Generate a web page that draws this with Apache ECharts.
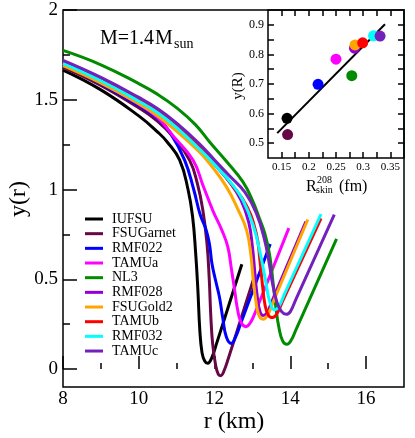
<!DOCTYPE html>
<html>
<head>
<meta charset="utf-8">
<script src="https://cdn.jsdelivr.net/npm/echarts@6/dist/echarts.min.js"></script>
<style>
  html, body { margin: 0; padding: 0; background: #fff; }
  #chart { width: 415px; height: 438px; }
</style>
</head>
<body>
<div id="chart"></div>
<script>
// y(r) curves, [r (km), y]
const iufsu = [[8, 1.665], [9, 1.555], [10, 1.41], [10.5, 1.32], [10.75, 1.265], [11.08, 1.164], [11.3, 1.0], [11.42, 0.85], [11.5, 0.65], [11.56, 0.44], [11.61, 0.22], [11.67, 0.09], [11.74, 0.045], [11.82, 0.032], [11.92, 0.06], [12.05, 0.14], [12.72, 0.584]]
const fsuGarnet = [[8, 1.682], [9, 1.58], [10, 1.455], [10.5, 1.38], [10.9, 1.295], [11.34, 1.164], [11.55, 1.03], [11.69, 0.886], [11.8, 0.70], [11.86, 0.5], [11.9, 0.3], [11.95, 0.14], [12.03, 0.02], [12.1, -0.03], [12.16, -0.037], [12.24, -0.015], [12.38, 0.07], [13.07, 0.529]]
const rmf022 = [[8, 1.695], [9, 1.59], [10, 1.468], [10.5, 1.395], [10.82, 1.32], [11.21, 1.164], [11.45, 1.0], [11.62, 0.86], [11.78, 0.774], [11.87, 0.69], [11.93, 0.59], [12.02, 0.5], [12.13, 0.40], [12.22, 0.28], [12.31, 0.18], [12.44, 0.143], [12.56, 0.18], [12.7, 0.26], [13.47, 0.697]]
const tamua = [[8, 1.70], [9, 1.597], [10, 1.475], [10.5, 1.40], [10.9, 1.30], [11.43, 1.164], [11.7, 1.02], [11.96, 0.88], [12.2, 0.77], [12.35, 0.68], [12.45, 0.55], [12.53, 0.44], [12.6, 0.34], [12.7, 0.26], [12.83, 0.236], [12.95, 0.26], [13.1, 0.33], [13.96, 0.785]]
const nl3 = [[8, 1.775], [9, 1.695], [10, 1.59], [10.5, 1.53], [11, 1.455], [11.5, 1.36], [11.87, 1.265], [12.3, 1.16], [12.74, 1.045], [13.0, 0.94], [13.2, 0.83], [13.32, 0.76], [13.45, 0.64], [13.55, 0.47], [13.62, 0.34], [13.7, 0.23], [13.8, 0.155], [13.91, 0.138], [14.02, 0.16], [14.15, 0.22], [15.22, 0.725]]
const rmf028 = [[8, 1.714], [9, 1.618], [10, 1.505], [10.5, 1.44], [11, 1.36], [11.6, 1.235], [12.0, 1.14], [12.4, 1.04], [12.7, 0.94], [12.9, 0.82], [13.0, 0.68], [13.07, 0.52], [13.13, 0.4], [13.2, 0.32], [13.28, 0.298], [13.38, 0.31], [13.5, 0.37], [14.41, 0.822]]
const fsuGold2 = [[8, 1.69], [9, 1.593], [10, 1.478], [10.5, 1.41], [11, 1.325], [11.6, 1.21], [11.87, 1.145], [12.31, 1.016], [12.66, 0.87], [12.85, 0.77], [12.95, 0.65], [13.02, 0.5], [13.09, 0.38], [13.17, 0.3], [13.28, 0.278], [13.4, 0.3], [13.55, 0.375], [14.46, 0.833]]
const tamub = [[8, 1.708], [9, 1.612], [10, 1.498], [10.5, 1.435], [11, 1.35], [11.6, 1.235], [12.0, 1.15], [12.44, 1.03], [12.83, 0.915], [13.1, 0.756], [13.2, 0.6], [13.26, 0.477], [13.33, 0.36], [13.42, 0.3], [13.53, 0.287], [13.65, 0.31], [13.8, 0.38], [14.81, 0.839]]
const rmf032 = [[8, 1.703], [9, 1.606], [10, 1.492], [10.5, 1.428], [11, 1.345], [11.6, 1.225], [12.0, 1.14], [12.48, 1.025], [12.75, 0.94], [13.02, 0.8], [13.2, 0.65], [13.36, 0.477], [13.45, 0.38], [13.58, 0.33], [13.7, 0.35], [13.85, 0.42], [14.81, 0.863]]
const tamuc = [[8, 1.72], [9, 1.625], [10, 1.513], [10.5, 1.45], [11, 1.37], [11.6, 1.255], [12.0, 1.165], [12.4, 1.075], [12.8, 0.985], [13.1, 0.87], [13.32, 0.72], [13.45, 0.58], [13.53, 0.477], [13.65, 0.37], [13.77, 0.32], [13.89, 0.305], [14.0, 0.32], [14.15, 0.39], [15.16, 0.86]]

const models = ['IUFSU', 'FSUGarnet', 'RMF022', 'TAMUa', 'NL3', 'RMF028', 'FSUGold2', 'TAMUb', 'RMF032', 'TAMUc']
const colors = ['#000000', '#670748', '#0000ff', '#ff00ff', '#008b00', '#9400d3', '#ffa500', '#ff0000', '#00ffff', '#7221bc']
const curves = [iufsu, fsuGarnet, rmf022, tamua, nl3, rmf028, fsuGold2, tamub, rmf032, tamuc]

// inset: y(R) vs neutron skin of 208Pb
const skin = [0.16, 0.161, 0.217, 0.25, 0.279, 0.284, 0.285, 0.299, 0.319, 0.331]
const yR = [0.584, 0.529, 0.699, 0.784, 0.728, 0.821, 0.832, 0.839, 0.863, 0.862]
const fitX = [0.142, 0.34]
const fitY = [0.534, 0.902]

// ticks
const rMajor = [8, 10, 12, 14, 16]
const rMinor = [9, 11, 13, 15]
const yMajor = [0, 0.5, 1, 1.5, 2]
const yMinor = [0.25, 0.75, 1.25, 1.75]
const skinTicks = [0.15, 0.175, 0.2, 0.225, 0.25, 0.275, 0.3, 0.325, 0.35]
const skinLabels = [0.15, 0.2, 0.25, 0.3, 0.35]
const yRTicks = [0.5, 0.55, 0.6, 0.65, 0.7, 0.75, 0.8, 0.85, 0.9]
const yRLabels = [0.5, 0.6, 0.7, 0.8, 0.9]

const serif = '"Liberation Serif", "Times New Roman", serif'

const chart = echarts.init(document.getElementById('chart'))

function tickAxis(extra) {
  return Object.assign({
    type: 'value',
    splitLine: { show: false },
    axisLine: { show: false },
    axisLabel: { show: false }
  }, extra)
}

const tickLine = { color: '#000', width: 1.5 }

const series = curves.map((c, i) => ({
  name: models[i],
  type: 'line',
  xAxisIndex: 0,
  yAxisIndex: 0,
  data: c,
  showSymbol: false,
  symbol: 'none',
  smooth: 0.45,
  lineStyle: { width: 3, color: colors[i] },
  itemStyle: { color: colors[i] }
}))

series.push({
  type: 'line',
  xAxisIndex: 2,
  yAxisIndex: 2,
  data: fitX.map((x, i) => [x, fitY[i]]),
  showSymbol: false,
  symbol: 'none',
  lineStyle: { width: 2, color: '#000' },
  z: 3
})

series.push({
  type: 'scatter',
  xAxisIndex: 2,
  yAxisIndex: 2,
  data: skin.map((x, i) => [x, yR[i]]),
  symbolSize: 11,
  itemStyle: { color: p => colors[p.dataIndex], opacity: 1 },
  z: 4
})

chart.setOption({
  animation: false,
  backgroundColor: '#fff',
  grid: [
    { left: 63, top: 10, right: 11, bottom: 51, show: true, borderColor: '#000', borderWidth: 1.5, backgroundColor: 'transparent' },
    { left: 268, top: 10, right: 11, bottom: 280, show: true, borderColor: '#000', borderWidth: 1.5, backgroundColor: 'transparent' }
  ],
  legend: {
    data: models,
    orient: 'vertical',
    left: 80,
    top: 207,
    icon: 'rect',
    itemWidth: 18,
    itemHeight: 3,
    itemGap: 0.67,
    textStyle: { fontFamily: serif, fontSize: 14, lineHeight: 14, color: '#000', padding: [0, 0, 0, 4] }
  },
  xAxis: [
    tickAxis({
      gridIndex: 0, min: 8, max: 17, position: 'bottom',
      axisTick: { show: true, inside: true, length: 13, customValues: rMajor, lineStyle: tickLine },
      axisLabel: { show: true, customValues: rMajor, margin: 3, fontFamily: serif, fontSize: 19, color: '#000' }
    }),
    tickAxis({
      gridIndex: 0, min: 8, max: 17, position: 'bottom',
      axisTick: { show: true, inside: true, length: 6, customValues: rMinor, lineStyle: tickLine }
    }),
    tickAxis({
      gridIndex: 1, min: 0.125, max: 0.375, position: 'bottom',
      axisTick: { show: true, inside: true, length: 6, customValues: skinTicks, lineStyle: tickLine },
      axisLabel: { show: true, customValues: skinLabels, margin: 4, fontFamily: serif, fontSize: 11, color: '#000' }
    }),
    tickAxis({
      gridIndex: 1, min: 0.125, max: 0.375, position: 'top',
      axisTick: { show: true, inside: true, length: 6, customValues: skinTicks, lineStyle: tickLine }
    })
  ],
  yAxis: [
    tickAxis({
      gridIndex: 0, min: -0.1, max: 2, position: 'left',
      axisTick: { show: true, inside: true, length: 14, customValues: yMajor, lineStyle: tickLine },
      axisLabel: { show: true, customValues: yMajor, margin: 5, fontFamily: serif, fontSize: 19, color: '#000' }
    }),
    tickAxis({
      gridIndex: 0, min: -0.1, max: 2, position: 'left',
      axisTick: { show: true, inside: true, length: 7, customValues: yMinor, lineStyle: tickLine }
    }),
    tickAxis({
      gridIndex: 1, min: 0.45, max: 0.95, position: 'left',
      axisTick: { show: true, inside: true, length: 6, customValues: yRTicks, lineStyle: tickLine },
      axisLabel: { show: true, customValues: yRLabels, margin: 4, fontFamily: serif, fontSize: 12, color: '#000' }
    }),
    tickAxis({
      gridIndex: 1, min: 0.45, max: 0.95, position: 'right',
      axisTick: { show: true, inside: true, length: 6, customValues: yRTicks, lineStyle: tickLine }
    })
  ],
  graphic: [
    { type: 'text', x: 100, y: 39, style: { text: 'M=1.4', font: '20px ' + serif, fill: '#000', verticalAlign: 'middle' } },
    { type: 'text', x: 155, y: 39, style: { text: 'M', font: '20px ' + serif, fill: '#000', verticalAlign: 'middle' } },
    { type: 'text', x: 174, y: 44, style: { text: 'sun', font: '14px ' + serif, fill: '#000', verticalAlign: 'middle' } },
    { type: 'text', x: 19, y: 199, rotation: Math.PI / 2, style: { text: 'y(r)', font: '24px ' + serif, fill: '#000', align: 'center', verticalAlign: 'middle' } },
    { type: 'text', x: 234, y: 422, style: { text: 'r (km)', font: '24px ' + serif, fill: '#000', align: 'center', verticalAlign: 'middle' } },
    { type: 'text', x: 238, y: 86, rotation: Math.PI / 2, style: { text: 'y(R)', font: '15px ' + serif, fill: '#000', align: 'center', verticalAlign: 'middle' } },
    { type: 'text', x: 306, y: 187, style: { text: 'R', font: '16px ' + serif, fill: '#000', verticalAlign: 'middle' } },
    { type: 'text', x: 316, y: 190, style: { text: 'skin', font: '10px ' + serif, fill: '#000', verticalAlign: 'middle' } },
    { type: 'text', x: 317, y: 180.5, style: { text: '208', font: '10px ' + serif, fill: '#000', verticalAlign: 'middle' } },
    { type: 'text', x: 339, y: 187, style: { text: '(fm)', font: '16px ' + serif, fill: '#000', verticalAlign: 'middle' } }
  ],
  series: series
})
</script>
</body>
</html>
